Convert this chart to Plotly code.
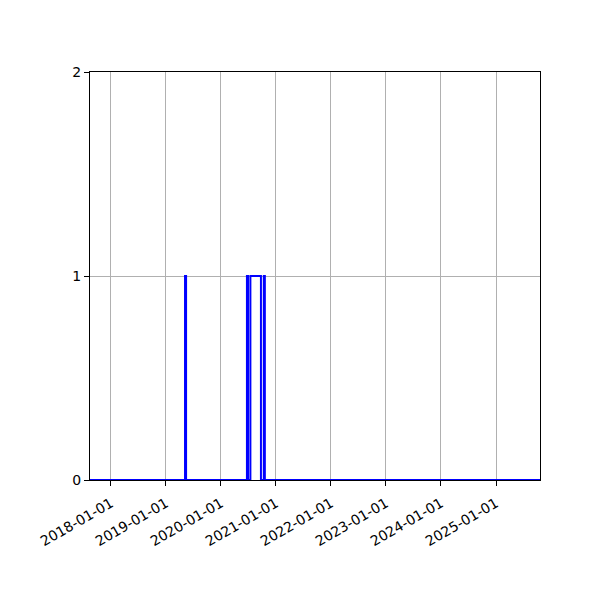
import plotly.graph_objects as go

# step signal (0/1) sampled at change points
dates = ["2017-08-15", "2019-05-08", "2019-05-15", "2020-06-22", "2020-06-29",
         "2020-07-15", "2020-09-23", "2020-10-12", "2020-10-19", "2025-10-20"]
values = [0, 1, 0, 1, 0, 1, 0, 1, 0, 0]

tick_dates = ["2018-01-01", "2019-01-01", "2020-01-01", "2021-01-01",
              "2022-01-01", "2023-01-01", "2024-01-01", "2025-01-01"]
y_ticks = [0, 1, 2]

fig = go.Figure()
fig.add_trace(go.Scatter(x=dates, y=values, mode="lines", line_shape="hv",
                         line=dict(color="#0000ff", width=2), showlegend=False))

axis_style = dict(showline=True, linecolor="black", linewidth=1, mirror=True,
                  ticks="outside", ticklen=5, tickcolor="black",
                  showgrid=True, gridcolor="#b0b0b0", gridwidth=1,
                  zeroline=False, tickfont=dict(family="DejaVu Sans", size=14, color="black"))

fig.update_xaxes(range=[dates[0], dates[-1]], tickvals=tick_dates, ticktext=tick_dates,
                 tickangle=-30, ticklabelstandoff=4, **axis_style)
fig.update_yaxes(range=[0, 2], tickvals=y_ticks, **axis_style)

# page adds ~8px offset, so margins are trimmed to land the axes box at 90..540 x 72..480
fig.update_layout(width=600, height=600, plot_bgcolor="white", paper_bgcolor="white",
                  margin=dict(l=82, r=68, t=64, b=128),
                  font=dict(family="DejaVu Sans", size=14, color="black"))

fig.write_html("out.html")
